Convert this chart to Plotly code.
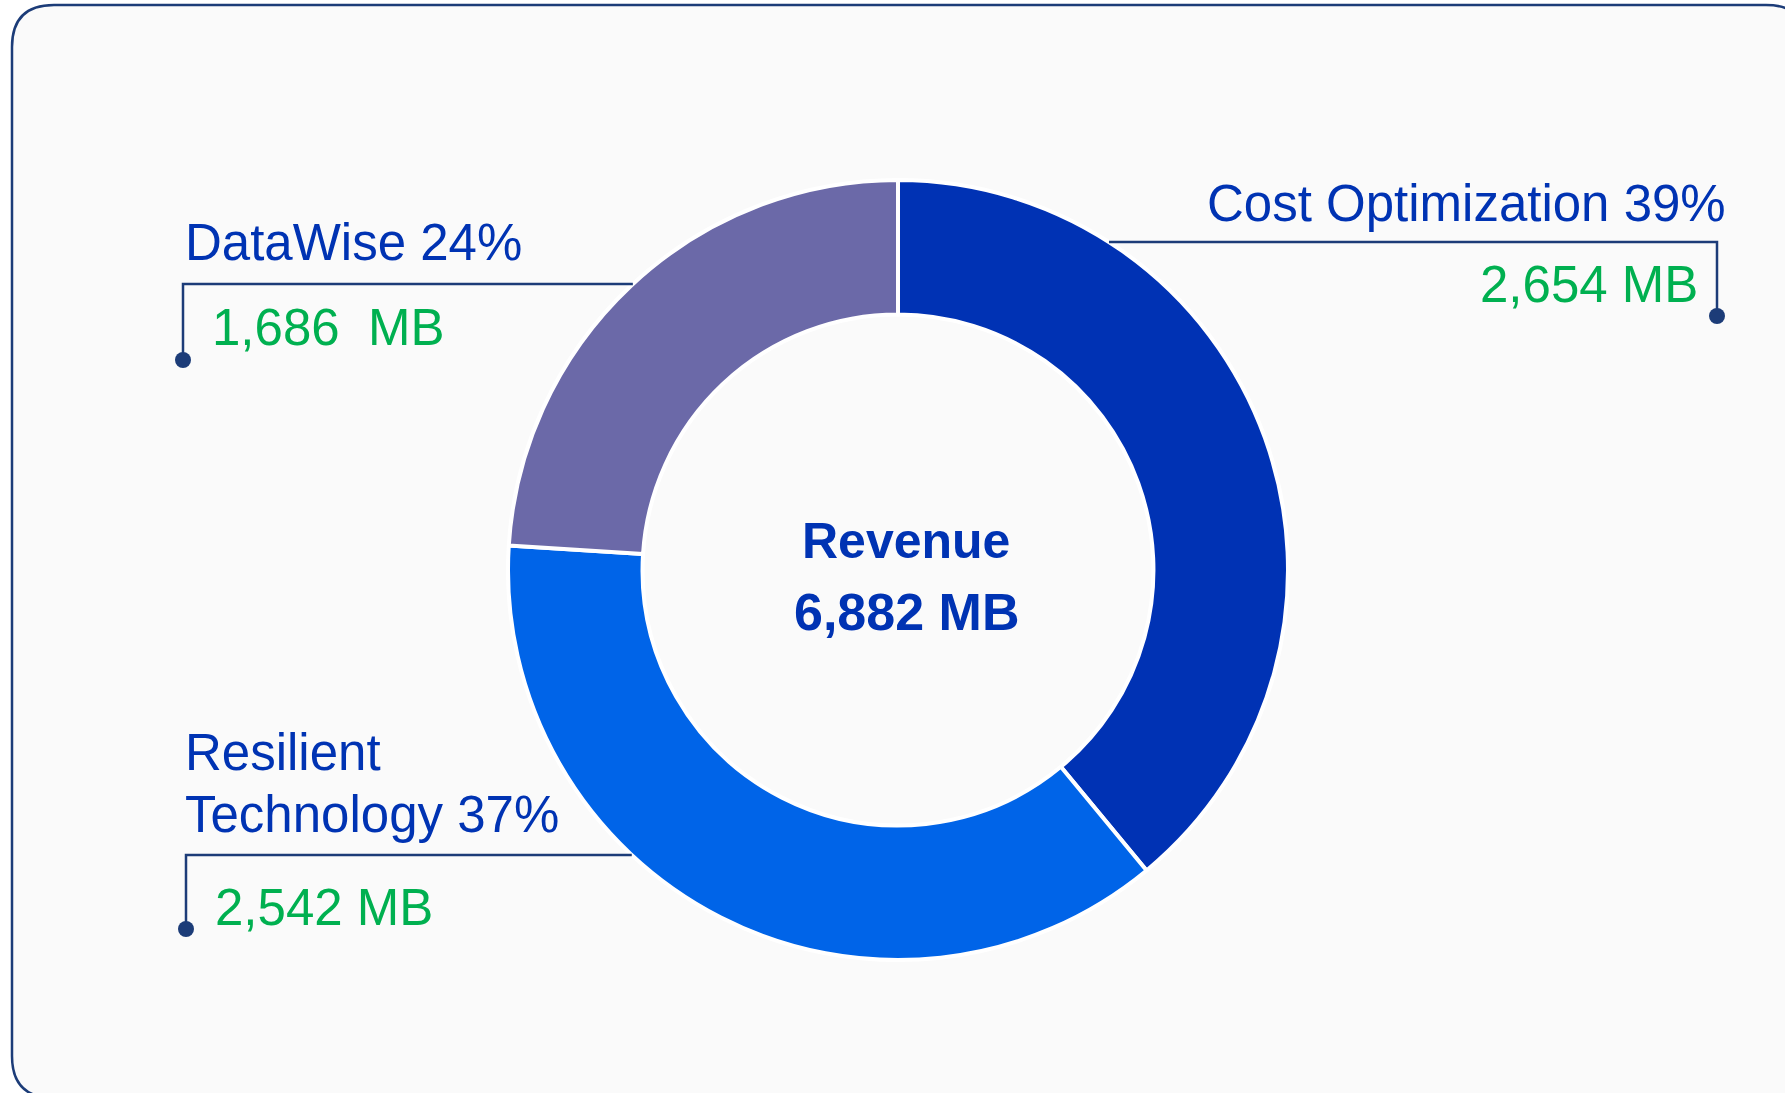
import plotly.graph_objects as go

W, H = 1785, 1093

# ---- data ----
categories = ["Cost Optimization", "Resilient Technology", "DataWise"]
percent_values = [39, 37, 24]          # slice sizes as drawn (rounded shares)
values_mb = [2654, 2542, 1686]         # revenue per category, MB
value_labels = ["2,654 MB", "2,542 MB", "1,686\u00a0 MB"]
center_title = "Revenue"
center_value = "6,882 MB"

slice_colors = ["#0032B4", "#0064E8", "#6B69A8"]
TEXT_BLUE = "#0033B3"
GREEN = "#00B050"
NAVY = "#1C3C78"
FONT = "Liberation Sans, Arial, Helvetica, sans-serif"

# ---- geometry (pixels) ----
CX, CY, R = 898, 570, 390


def px(x):
    return x / W


def py(y):
    return 1 - y / H


fig = go.Figure()

fig.add_trace(go.Pie(
    labels=categories,
    values=percent_values,
    customdata=values_mb,
    sort=False,
    direction="clockwise",
    rotation=0,
    hole=0.655,
    textinfo="none",
    hovertemplate="%{label}: %{customdata:,} MB (%{value}%)<extra></extra>",
    marker=dict(colors=slice_colors, line=dict(color="#FFFFFF", width=4)),
    domain=dict(x=[px(CX - R), px(CX + R)], y=[py(CY + R), py(CY - R)]),
    showlegend=False,
))

shapes = []

# rounded frame
x0, y0, x1, y1, rr = 12, 5, 1808, 1098, 42
path = (
    f"M {px(x0 + rr)},{py(y0)} L {px(x1 - rr)},{py(y0)} "
    f"Q {px(x1)},{py(y0)} {px(x1)},{py(y0 + rr)} "
    f"L {px(x1)},{py(y1 - rr)} Q {px(x1)},{py(y1)} {px(x1 - rr)},{py(y1)} "
    f"L {px(x0 + rr)},{py(y1)} Q {px(x0)},{py(y1)} {px(x0)},{py(y1 - rr)} "
    f"L {px(x0)},{py(y0 + rr)} Q {px(x0)},{py(y0)} {px(x0 + rr)},{py(y0)} Z"
)
shapes.append(dict(type="path", xref="paper", yref="paper", path=path,
                   line=dict(color=NAVY, width=2.5), fillcolor="#FAFAFA",
                   layer="below"))

# leader lines: (label-side x, line y, dot y, side)
leaders = [
    (1717, 242, 316, +1),   # Cost Optimization
    (186, 855, 929, -1),    # Resilient Technology
    (183, 284, 360, -1),    # DataWise
]
for lx, ly, dy, side in leaders:
    ex = CX + side * (R ** 2 - (ly - CY) ** 2) ** 0.5
    shapes.append(dict(type="path", xref="paper", yref="paper",
                       path=f"M {px(ex)},{py(ly)} L {px(lx)},{py(ly)} L {px(lx)},{py(dy)}",
                       line=dict(color=NAVY, width=2.5)))
    rd = 8
    shapes.append(dict(type="circle", xref="paper", yref="paper",
                       x0=px(lx - rd), x1=px(lx + rd), y0=py(dy + rd), y1=py(dy - rd),
                       fillcolor=NAVY, line=dict(color=NAVY, width=0)))

annotations = []


def ann(text, x, y, color, xanchor, size=51, bold=False):
    annotations.append(dict(
        text=f"<b>{text}</b>" if bold else text,
        x=px(x), y=py(y), xref="paper", yref="paper",
        xanchor=xanchor, yanchor="middle", showarrow=False,
        font=dict(family=FONT, size=size, color=color),
    ))


# Cost Optimization (right-aligned)
ann(f"{categories[0]} {percent_values[0]}%", 1728, 203, TEXT_BLUE, "right")
ann(value_labels[0], 1700, 284, GREEN, "right")

# Resilient Technology (two lines)
ann("Resilient", 183, 752, TEXT_BLUE, "left")
ann(f"Technology {percent_values[1]}%", 183, 814, TEXT_BLUE, "left")
ann(value_labels[1], 213, 907, GREEN, "left")

# DataWise
ann(f"{categories[2]} {percent_values[2]}%", 183, 242, TEXT_BLUE, "left")
ann(value_labels[2], 210, 327, GREEN, "left")

# center
ann(center_title, 906, 541, TEXT_BLUE, "center", size=50, bold=True)
ann(center_value, 906, 612, TEXT_BLUE, "center", size=52, bold=True)

fig.update_layout(
    width=W, height=H,
    margin=dict(l=0, r=0, t=0, b=0),
    paper_bgcolor="#FFFFFF",
    plot_bgcolor="#FFFFFF",
    shapes=shapes,
    annotations=annotations,
    showlegend=False,
)

fig.write_html("out.html", config={"displayModeBar": False},
               post_script="document.body.style.margin='0';document.body.style.overflow='hidden';")
